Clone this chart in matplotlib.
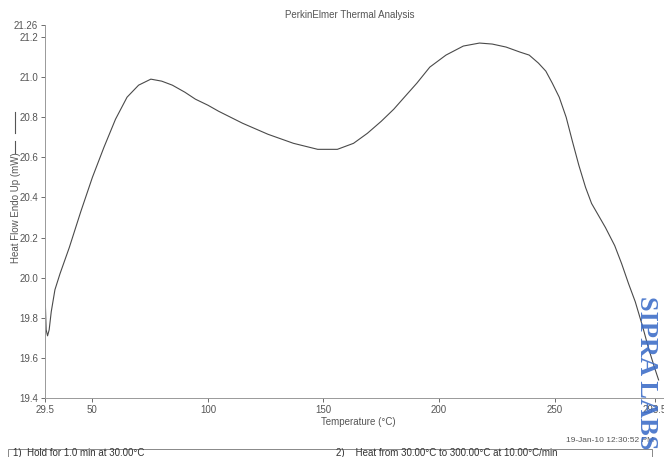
import matplotlib
matplotlib.use("Agg")
import matplotlib.pyplot as plt
from matplotlib.patches import Rectangle
from matplotlib.lines import Line2D

plt.rcParams["font.family"] = ["Liberation Sans", "DejaVu Sans"]

# heat flow curve
temp = [29.5, 29.7, 30.0, 30.6, 31.3, 32.2, 33.8, 36.0, 40.0, 45.0, 50.0,
        55.0, 60.0, 65.0, 70.0, 75.3, 80.0, 84.6, 90.0, 94.6, 100.0, 104.6,
        115.0, 126.0, 137.0, 147.5, 156.0, 163.0, 169.0, 175.0, 180.4, 185.0,
        190.4, 196.0, 203.0, 210.5, 217.5, 223.0, 229.0, 235.0, 239.0, 243.0,
        246.2, 249.0, 252.0, 255.0, 257.7, 260.5, 263.4, 266.0, 269.0, 272.0,
        276.0, 279.0, 282.0, 284.9, 288.0, 290.6, 293.0, 295.0]
heat_flow = [20.02, 19.85, 19.74, 19.71, 19.74, 19.83, 19.94, 20.02, 20.15,
             20.33, 20.5, 20.65, 20.79, 20.9, 20.96, 20.99, 20.98, 20.96,
             20.925, 20.89, 20.86, 20.83, 20.77, 20.715, 20.67, 20.64, 20.64,
             20.67, 20.72, 20.78, 20.84, 20.9, 20.97, 21.05, 21.11, 21.155,
             21.17, 21.165, 21.15, 21.125, 21.11, 21.07, 21.03, 20.97, 20.9,
             20.8, 20.68, 20.56, 20.45, 20.37, 20.31, 20.25, 20.16, 20.07,
             19.97, 19.88, 19.76, 19.65, 19.56, 19.49]

xticks = [29.5, 50, 100, 150, 200, 250, 293.5]
xtick_labels = ["29.5", "50", "100", "150", "200", "250", "293.5"]
yticks = [19.4, 19.6, 19.8, 20.0, 20.2, 20.4, 20.6, 20.8, 21.0, 21.2, 21.26]
ytick_labels = ["19.4", "19.6", "19.8", "20.0", "20.2", "20.4", "20.6", "20.8",
                "21.0", "21.2", "21.26"]

grey = "#555555"
fig = plt.figure(figsize=(6.64, 4.57), dpi=100)
ax = fig.add_axes([45 / 664, 59 / 457, 621 / 664, 373 / 457])
ax.plot(temp, heat_flow, color="#4a4a4a", lw=0.8)
ax.set_xlim(29.5, 298.2)
ax.set_ylim(19.4, 21.26)

ax.set_xticks(xticks)
ax.set_xticklabels(xtick_labels)
ax.set_yticks(yticks)
ax.set_yticklabels(ytick_labels)
ax.tick_params(labelsize=7, colors=grey, length=3, width=0.6, pad=2)
for s in ["top", "right"]:
    ax.spines[s].set_visible(False)
for s in ["left", "bottom"]:
    ax.spines[s].set_color("#999999")
    ax.spines[s].set_linewidth(0.7)

ax.set_xlabel("Temperature (\u00b0C)", fontsize=7, color=grey)
ax.xaxis.set_label_coords(0.505, -0.052)
ax.set_ylabel("Heat Flow Endo Up (mW)", fontsize=7, color=grey)
ax.yaxis.set_label_coords(-0.039, 0.51)
# endo-up marker strokes next to the y label
fig.add_artist(Line2D([15 / 664, 15 / 664], [1 - 153 / 457, 1 - 141 / 457],
                      color=grey, lw=0.8))
fig.add_artist(Line2D([15 / 664, 15 / 664], [1 - 133 / 457, 1 - 112 / 457],
                      color=grey, lw=0.8))

fig.text(0.527, 0.967, "PerkinElmer Thermal Analysis", fontsize=7,
         color=grey, ha="center", va="center")
fig.text(566 / 664, 1 - 440 / 457, "19-Jan-10 12:30:52 PM", fontsize=6,
         color=grey, ha="left", va="center")

# method steps box
fig.patches.append(Rectangle((8 / 664, 0), 644 / 664, 8 / 457,
                             transform=fig.transFigure, fill=False,
                             ec="#888888", lw=0.7))
fig.text(13 / 664, 1 - 453 / 457, "1)  Hold for 1.0 min at 30.00\u00b0C",
         fontsize=7, color="#333333", ha="left", va="center")
fig.text(336 / 664, 1 - 453 / 457,
         "2)    Heat from 30.00\u00b0C to 300.00\u00b0C at 10.00\u00b0C/min",
         fontsize=7, color="#333333", ha="left", va="center")

# lab stamp
fig.text(646 / 664, 1 - 373 / 457, "SIPRA LABS", rotation=270,
         fontsize=19, color="#3f6fc9", family="Liberation Serif",
         weight="bold", ha="center", va="center", alpha=0.9)

fig.savefig("out.png", dpi=100)
